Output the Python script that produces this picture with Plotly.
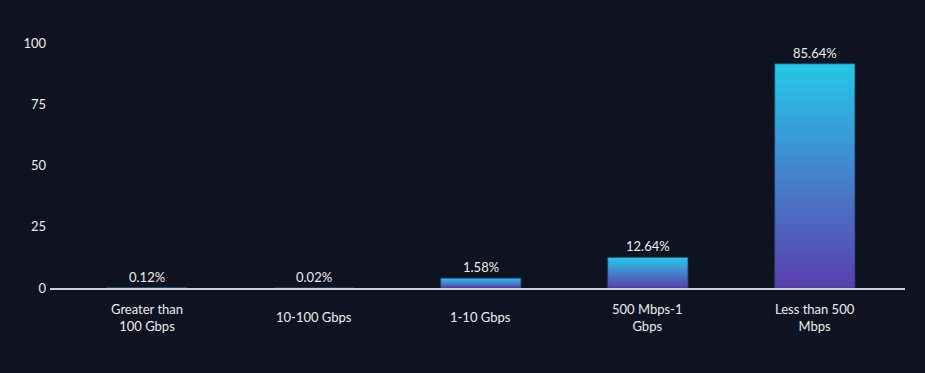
import plotly.graph_objects as go

# ---- data ----
categories = ["Greater than<br>100 Gbps", "10-100 Gbps", "1-10 Gbps", "500 Mbps-1<br>Gbps", "Less than 500<br>Mbps"]
bar_heights = [0.12, 0.02, 4.0, 12.5, 91.5]          # bar tops as read on the y axis
share_labels = ["0.12%", "0.02%", "1.58%", "12.64%", "85.64%"]
y_ticks = [0, 25, 50, 75, 100]

BG = "#0f1321"
TXT = "#ececec"
FONT = "Lato, 'Open Sans', sans-serif"
BAR_W = 0.48
GRAD = [[0.0, "#5a3fad"], [0.5, "#4582cd"], [1.0, "#24c8e8"]]

fig = go.Figure()

for i, h in enumerate(bar_heights):
    x0, x1 = i - BAR_W / 2, i + BAR_W / 2
    fig.add_trace(go.Scatter(
        x=[x0, x0, x1, x1, x0],
        y=[0, h, h, 0, 0],
        mode="lines",
        fill="toself",
        fillgradient=dict(type="vertical", colorscale=GRAD),
        line=dict(color="rgba(35,75,115,0.7)", width=1),
        hoverinfo="skip",
        showlegend=False,
    ))

# value labels above the bars
for i, (h, lab) in enumerate(zip(bar_heights, share_labels)):
    fig.add_annotation(
        x=i, y=h, xref="x", yref="y",
        text=lab, showarrow=False,
        yanchor="middle", xanchor="center",
        yshift=11,
        font=dict(family=FONT, size=13, color=TXT),
    )

# category labels, vertically centred under the axis
for i, c in enumerate(categories):
    fig.add_annotation(
        x=i, y=0, xref="x", yref="y",
        text=c, showarrow=False,
        yanchor="middle", xanchor="center",
        yshift=-29,
        font=dict(family=FONT, size=13, color=TXT),
    )

fig.update_layout(
    width=925, height=373,
    margin=dict(l=50, r=20, t=43, b=85),
    paper_bgcolor=BG, plot_bgcolor=BG,
    font=dict(family=FONT, size=13, color=TXT),
    showlegend=False,
    xaxis=dict(
        range=[-0.58, len(categories) - 0.46],
        tickvals=list(range(len(categories))),
        showticklabels=False,
        showgrid=False, zeroline=False,
        showline=True, linecolor="#cfcfcf", linewidth=1.5,
        ticks="", fixedrange=True,
    ),
    yaxis=dict(
        range=[0, 100],
        tickvals=y_ticks,
        showgrid=False, zeroline=False, showline=False,
        ticks="", ticklabelstandoff=3,
        tickfont=dict(family=FONT, size=13, color=TXT),
        fixedrange=True,
    ),
)

fig.write_html(
    "out.html",
    config={"displayModeBar": False},
    post_script="document.body.style.margin='0';document.body.style.background='" + BG + "';",
)
